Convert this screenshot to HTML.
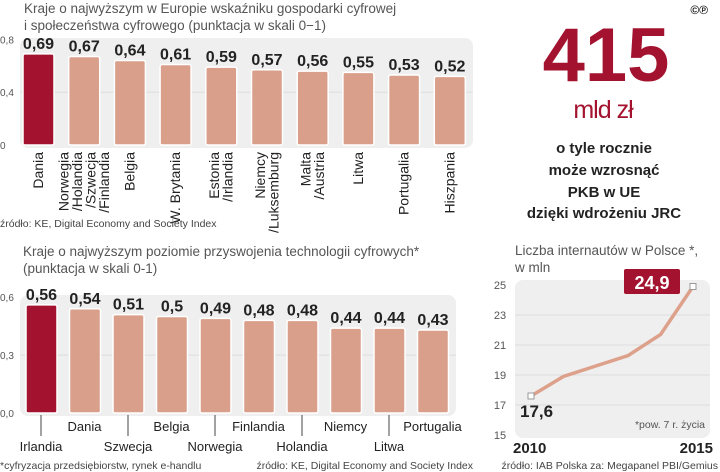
<!DOCTYPE html>
<html><head><meta charset="utf-8"><style>
body{margin:0;width:720px;height:472px;background:#fff;overflow:hidden;font-family:"Liberation Sans",sans-serif}
svg{position:absolute;left:0;top:0}
</style></head><body>
<svg width="720" height="472" font-family="Liberation Sans, sans-serif">
<g id="c1"></g>
<g id="c2"></g>
<g id="c3"></g>
<g>
<text x="708" y="14" font-size="12" font-weight="bold" text-anchor="end" fill="#222">©℗</text>
<text x="606" y="81" font-size="76" font-weight="bold" fill="#a3122e" text-anchor="middle">415</text>
<text x="603" y="118" font-size="25" fill="#a3122e" text-anchor="middle" letter-spacing="-1">mld zł</text>
<g font-size="15" font-weight="bold" fill="#222" text-anchor="middle">
<text x="604" y="153">o tyle rocznie</text>
<text x="604" y="175">może wzrosnąć</text>
<text x="604" y="197">PKB w UE</text>
<text x="604" y="218">dzięki wdrożeniu JRC</text>
</g></g>
</svg>
<script>
const NS="http://www.w3.org/2000/svg";
function mk(p,t,a,txt){const e=document.createElementNS(NS,t);for(const k in a)e.setAttribute(k,a[k]);if(txt!==undefined)e.textContent=txt;p.appendChild(e);return e;}
// chart 1 data
const c1Cats=[["Dania"],["Norwegia","/Holandia","/Szwecja","/Finlandia"],["Belgia"],["W. Brytania"],["Estonia","/Irlandia"],["Niemcy","/Luksemburg"],["Malta","/Austria"],["Litwa"],["Portugalia"],["Hiszpania"]];
const c1Vals=[0.69,0.67,0.64,0.61,0.59,0.57,0.56,0.55,0.53,0.52];
const c1Labels=["0,69","0,67","0,64","0,61","0,59","0,57","0,56","0,55","0,53","0,52"];
const c1Ticks=[0,0.4,0.8];const c1TickLabels=["0","0,4","0,8"];
// chart 2 data
const c2Cats=["Irlandia","Dania","Szwecja","Belgia","Norwegia","Finlandia","Holandia","Niemcy","Litwa","Portugalia"];
const c2Vals=[0.56,0.54,0.51,0.5,0.49,0.48,0.48,0.44,0.44,0.43];
const c2Labels=["0,56","0,54","0,51","0,5","0,49","0,48","0,48","0,44","0,44","0,43"];
const c2Ticks=[0,0.3,0.6];const c2TickLabels=["0,0","0,3","0,6"];
// chart 3 data
const c3Years=[2010,2011,2012,2013,2014,2015];
const c3Vals=[17.6,18.9,19.6,20.3,21.7,24.9];
const c3Ticks=[15,17,19,21,23,25];

function barChart(g,o){
  const y=v=>o.y0-v*o.k, x=i=>o.x0+i*o.step;
  mk(g,"rect",{x:o.bgx,y:o.bgy,width:o.bgw,height:o.y0-o.bgy+3,rx:8,fill:"#efefef",});
  o.ticks.forEach((t,i)=>{ if(t>0&&t<o.ticks[o.ticks.length-1]) mk(g,"line",{x1:o.bgx,x2:o.bgx+o.bgw,y1:y(t),y2:y(t),stroke:"#ddd"});
    const e=mk(g,"text",{x:o.tx,y:y(t)+4,"font-size":10,fill:"#555"},o.tl[i]);
    
    });
  o.vals.forEach((v,i)=>{
    const r=mk(g,"rect",{x:x(i),y:y(v),width:o.bw,height:v*o.k,fill:i==0?"#a3122e":"#d99f8a",stroke:"#fff","stroke-width":1.5,rx:2});
    
    
    const t=mk(g,"text",{x:x(i)+o.bw/2,y:y(v)-5,"font-size":16,"font-weight":"bold",fill:"#222","text-anchor":"middle"},o.labels[i]);
    
    
  });
}
const g1=document.getElementById("c1");
mk(g1,"text",{x:24,y:13,"font-size":13.5,fill:"#555"},"Kraje o najwyższym w Europie wskaźniku gospodarki cyfrowej");
mk(g1,"text",{x:24,y:30,"font-size":13.5,fill:"#555"},"i społeczeństwa cyfrowego (punktacja w skali 0−1)");
barChart(g1,{x0:23,step:45.7,bw:31,y0:145,k:132,bgx:20,bgy:38,bgw:453,ticks:c1Ticks,tl:c1TickLabels,tx:0,vals:c1Vals,labels:c1Labels});
c1Cats.forEach((lines,i)=>{const cx=23+i*45.7+15;const n=lines.length;
  lines.forEach((l,j)=>{const xx=cx+(j-(n-1)/2)*13.5+5;
    const t=mk(g1,"text",{x:xx,y:152,"font-size":14,fill:"#222","text-anchor":"end",transform:`rotate(-90 ${xx} 152)`},l);
    
    });});
mk(g1,"text",{x:0,y:227,"font-size":10.5,fill:"#444"},"źródło: KE, Digital Economy and Society Index");

const g2=document.getElementById("c2");
mk(g2,"text",{x:23,y:256,"font-size":13.5,fill:"#555"},"Kraje o najwyższym poziomie przyswojenia technologii cyfrowych*");
mk(g2,"text",{x:23,y:273,"font-size":13.5,fill:"#555"},"(punktacja w skali 0-1)");
barChart(g2,{x0:26,step:43.5,bw:31,y0:413,k:193,bgx:20,bgy:295,bgw:436,ticks:c2Ticks,tl:c2TickLabels,tx:0,vals:c2Vals,labels:c2Labels});
c2Cats.forEach((c,i)=>{const cx=26+i*43.5+15;const low=i%2==0;
  if(low) mk(g2,"line",{x1:cx,x2:cx,y1:415,y2:436,stroke:"#444"});
  const t=mk(g2,"text",{x:cx,y:low?451:431,"font-size":13,fill:"#222","text-anchor":"middle"},c);
  
  });
mk(g2,"text",{x:0,y:469,"font-size":10.5,fill:"#444"},"*cyfryzacja przedsiębiorstw, rynek e-handlu");
mk(g2,"text",{x:473,y:469,"font-size":10.5,fill:"#444","text-anchor":"end"},"źródło: KE, Digital Economy and Society Index");

const g3=document.getElementById("c3");
const X=yr=>531+(yr-2010)*32.4, Y=v=>285+(25-v)*15;
mk(g3,"text",{x:515,y:255,"font-size":13.5,fill:"#555"},"Liczba internautów w Polsce *,");
mk(g3,"text",{x:515,y:272,"font-size":13.5,fill:"#555"},"w mln");
mk(g3,"rect",{x:515,y:280,width:195,height:158,rx:8,fill:"#efefef",});
c3Ticks.forEach(t=>{ if(t>15&&t<25) mk(g3,"line",{x1:515,x2:710,y1:Y(t),y2:Y(t),stroke:"#ddd"});
  const e=mk(g3,"text",{x:500,y:Y(t)+4,"font-size":11,fill:"#555","text-anchor":"middle"},String(t));
  
  });
const ln=mk(g3,"polyline",{points:c3Years.map((yr,i)=>X(yr)+","+Y(c3Vals[i])).join(" "),fill:"none",stroke:"#dda08b","stroke-width":3.5});


[0,c3Vals.length-1].forEach(i=>{const d=mk(g3,"rect",{x:X(c3Years[i])-3,y:Y(c3Vals[i])-3,width:6,height:6,fill:"#fff",stroke:"#999"});
  
  });
mk(g3,"text",{x:520,y:417,"font-size":17,"font-weight":"bold",fill:"#222"},"17,6");
mk(g3,"rect",{x:624,y:269,width:56,height:25,rx:2,fill:"#a3122e",});
mk(g3,"text",{x:652,y:289,"font-size":18,"font-weight":"bold",fill:"#fff","text-anchor":"middle"},"24,9");
mk(g3,"text",{x:705,y:428,"font-size":10.5,fill:"#555","text-anchor":"end"},"*pow. 7 r. życia");
mk(g3,"text",{x:513,y:453,"font-size":15,"font-weight":"bold",fill:"#222"},"2010");
mk(g3,"text",{x:713,y:453,"font-size":15,"font-weight":"bold",fill:"#222","text-anchor":"end"},"2015");
mk(g3,"text",{x:718,y:469,"font-size":10.5,fill:"#444","text-anchor":"end"},"źródło: IAB Polska za: Megapanel  PBI/Gemius");
</script>
</body></html>
